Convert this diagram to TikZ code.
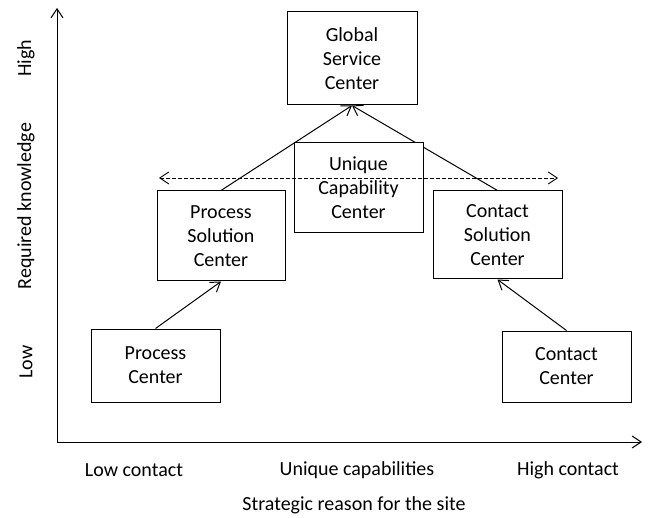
\documentclass[tikz,border=0pt]{standalone}
\usepackage{fontspec}
\setmainfont{Carlito}
\usepackage{tikz}
\usetikzlibrary{arrows.meta}
\newcommand\site[5]{\node[site,minimum width=#3pt,minimum height=#4pt] (#1) at (#2) {#5};}
\newcommand\link[2]{\draw[link] (#1) -- (#2);}
\newcommand\axlabel[3]{\node[axlabel] (#1) at (#2) {#3};}

\begin{document}
\begin{tikzpicture}[x=1pt,y=-1pt]
\tikzstyle{every node}=[font=\fontsize{20}{24}\selectfont]
\tikzstyle{site}=[draw,fill=white,line width=1pt,align=center,inner sep=0pt]
\tikzstyle{link}=[line width=1pt,-{Straight Barb[length=9pt,width=12pt]}]
\tikzstyle{axlabel}=[inner sep=0pt]
\useasboundingbox (0,0) rectangle (650,518);
% axes
\coordinate (origin) at (57,442);
\coordinate (ytop) at (57,8);
\coordinate (xend) at (642,442);
\link{origin}{ytop};
\link{origin}{xend};
\axlabel{high}{26,58}{\rotatebox{90}{High}}
\axlabel{knowledge}{26,206}{\rotatebox{90}{Required knowledge}}
\axlabel{low}{26,362}{\rotatebox{90}{Low}}
\axlabel{lowcontact}{134,470}{Low contact}
\axlabel{uniquecap}{357,470}{Unique capabilities}
\axlabel{highcontact}{568,470}{High contact}
\axlabel{reason}{354,505}{Strategic reason for the site}
% centers
\site{global}{352,58.5}{130}{93}{Global\\Service\\Center}
\site{psol}{221,236}{128}{90}{Process\\Solution\\Center}
\site{csol}{497.5,235}{129}{88}{Contact\\Solution\\Center}
\site{proc}{155.5,365.5}{129}{73}{Process\\Center}
\site{cont}{566.5,366.5}{129}{71}{Contact\\Center}
\link{proc.north}{psol.south};
\link{cont.north}{csol.south};
\link{psol.north}{global.south};
\link{csol.north}{global.south};
\site{unique}{358.5,188}{129}{90}{Unique\\Capability\\Center}
\coordinate (dleft) at (159,178);
\coordinate (dright) at (558,178);
\draw[link,{Straight Barb[length=9pt,width=12pt]}-{Straight Barb[length=9pt,width=12pt]},dash pattern=on 4pt off 2pt,line width=0.9pt] (dleft) -- (dright);
\end{tikzpicture}
\end{document}
